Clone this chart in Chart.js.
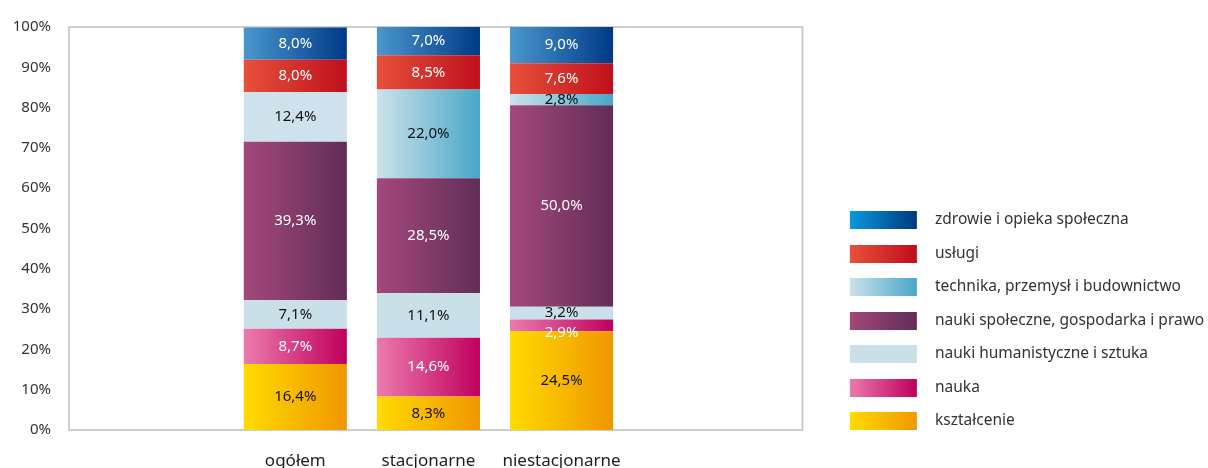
<!DOCTYPE html>
<html><head><meta charset="utf-8">
<script src="https://cdn.jsdelivr.net/npm/chart.js@4/dist/chart.umd.min.js"></script>
<style>html,body{margin:0;padding:0;background:#fff}</style>
</head><body>
<canvas id="c" width="1208" height="468"></canvas>
<script>
// ---- data ----
const categories = ['ogółem', 'stacjonarne', 'niestacjonarne'];
const seriesNames = [
  'kształcenie',
  'nauka',
  'nauki humanistyczne i sztuka',
  'nauki społeczne, gospodarka i prawo',
  'technika, przemysł i budownictwo',
  'usługi',
  'zdrowie i opieka społeczna'
];
const ksztalcenie   = [16.4, 8.3, 24.5];
const nauka         = [8.7, 14.6, 2.9];
const humanistyczne = [7.1, 11.1, 3.2];
const spoleczne     = [39.3, 28.5, 50.0];
const technika      = [12.4, 22.0, 2.8];
const uslugi        = [8.0, 8.5, 7.6];
const zdrowie       = [8.0, 7.0, 9.0];
const seriesValues = [ksztalcenie, nauka, humanistyczne, spoleczne, technika, uslugi, zdrowie];
const yTickLabels = ['0%','10%','20%','30%','40%','50%','60%','70%','80%','90%','100%'];

// ---- styles ----
const FONT = "'Noto Sans', 'DejaVu Sans', sans-serif";
const barColors = [
  ['#ffdb00', '#f09600'],
  ['#ec7bac', '#bf005e'],
  ['#cae0e8', '#cae0e8'],
  ['#a4487c', '#612e57'],
  ['#cde2ea', '#47a7c9'],
  ['#e6503a', '#c0101c'],
  ['#4a97cd', '#003a87']
];
const legendColors = [
  ['#ffdc00', '#f09800'],
  ['#ec7bac', '#bf005e'],
  ['#cae0e8', '#cae0e8'],
  ['#a4487c', '#612e57'],
  ['#cde2ea', '#47a7c9'],
  ['#e8523a', '#c00d1d'],
  ['#0a99de', '#003a7e']
];
const useGradient = [
  [true, true, true],
  [true, true, true],
  [false, false, false],
  [true, true, true],
  [false, true, true],
  [true, true, true],
  [true, true, true]
];
const labelColors = ['#111', '#fff', '#111', '#fff', '#111', '#fff', '#fff'];
const BAR_PCT = 0.7744;

function barFill(si) {
  return (c) => {
    const [c1, c2] = barColors[si];
    const chart = c.chart;
    const xs = chart.scales && chart.scales.x;
    if (c.type !== 'data' || !xs || !useGradient[si][c.dataIndex]) return c1;
    const cx = xs.getPixelForValue(c.dataIndex);
    const half = (xs.getPixelForValue(1) - xs.getPixelForValue(0)) * BAR_PCT / 2;
    if (!isFinite(cx) || !isFinite(half) || half <= 0) return c1;
    const g = chart.ctx.createLinearGradient(cx - half, 0, cx + half, 0);
    g.addColorStop(0, c1);
    g.addColorStop(1, c2);
    return g;
  };
}

// legend swatches (transparent margins + gradient block)
function makeSwatch(c1, c2) {
  const cv = document.createElement('canvas');
  cv.width = 106; cv.height = 18;
  const x = cv.getContext('2d');
  const g = x.createLinearGradient(29, 0, 96, 0);
  g.addColorStop(0, c1); g.addColorStop(1, c2);
  x.fillStyle = g;
  x.fillRect(29, 0, 67, 18);
  return cv;
}
const swatches = legendColors.map(([a, b]) => makeSwatch(a, b));

const datasets = seriesNames.map((name, si) => ({
  label: name,
  data: seriesValues[si].map((v, i) => ({x: i, y: v})),
  backgroundColor: barFill(si),
  borderWidth: 0,
  barPercentage: BAR_PCT,
  categoryPercentage: 1
}));

const framePlugin = {
  id: 'frame',
  beforeDatasetsDraw(chart) {
    const {left, top, right, bottom} = chart.chartArea;
    const ctx = chart.ctx;
    ctx.save();
    ctx.strokeStyle = '#c9c9c5';
    ctx.lineWidth = 1.8;
    ctx.strokeRect(left, top, right - left, bottom - top);
    ctx.restore();
  }
};

const labelPlugin = {
  id: 'segLabels',
  afterDatasetsDraw(chart) {
    const ctx = chart.ctx;
    ctx.save();
    ctx.font = '15px ' + FONT;
    ctx.textAlign = 'center';
    ctx.textBaseline = 'middle';
    categories.forEach((cat, i) => {
      let prevY = null;
      for (let si = seriesValues.length - 1; si >= 0; si--) {
        const el = chart.getDatasetMeta(si).data[i];
        if (!el) continue;
        let y = (el.y + el.base) / 2;
        if (prevY !== null && y - prevY < 16) y = prevY + 20;
        prevY = y;
        ctx.fillStyle = labelColors[si];
        ctx.fillText(seriesValues[si][i].toFixed(1).replace('.', ',') + '%', el.x, y);
      }
    });
    ctx.restore();
  }
};

new Chart(document.getElementById('c'), {
  type: 'bar',
  data: { datasets },
  plugins: [framePlugin, labelPlugin],
  options: {
    responsive: false,
    animation: false,
    devicePixelRatio: 1,
    layout: { padding: { top: 25, left: 13, right: 0, bottom: 0 } },
    scales: {
      x: {
        type: 'linear',
        stacked: true,
        offset: false,
        min: -1.7,
        max: 3.81,
        grid: { display: false, drawTicks: false },
        border: { display: false },
        afterBuildTicks(s) { s.ticks = categories.map((c, i) => ({ value: i })); },
        afterFit(s) { s.height = 38; },
        ticks: {
          autoSkip: false,
          maxRotation: 0,
          padding: 21,
          color: '#1e1e1e',
          font: { family: FONT, size: 17 },
          callback: (v, idx) => categories[idx]
        }
      },
      y: {
        stacked: true,
        min: 0,
        max: 100,
        grid: { display: false, drawTicks: false },
        border: { display: false },
        afterFit(s) { s.width = 56; },
        ticks: {
          stepSize: 10,
          padding: 18,
          color: '#333',
          font: { family: FONT, size: 15 },
          callback: (v) => yTickLabels[Math.round(v / 10)]
        }
      }
    },
    plugins: {
      tooltip: { enabled: false },
      legend: {
        position: 'right',
        align: 'start',
        reverse: true,
        maxWidth: 405.5,
        title: { display: true, text: '', padding: { top: 154.85, bottom: 0 }, font: { size: 12 } },
        labels: {
          usePointStyle: true,
          pointStyleWidth: 106.75,
          padding: 18,
          color: '#333',
          font: { family: FONT, size: 15.5 },
          generateLabels(chart) {
            const items = Chart.defaults.plugins.legend.labels.generateLabels(chart);
            items.forEach(it => {
              it.pointStyle = swatches[it.datasetIndex];
              it.lineWidth = 0;
              it.strokeStyle = 'rgba(0,0,0,0)';
            });
            return items;
          }
        }
      }
    }
  }
});
</script>
</body></html>
